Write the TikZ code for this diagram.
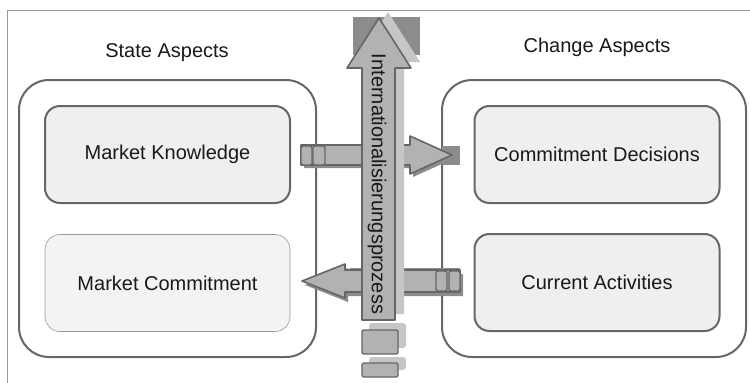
\documentclass[tikz,border=0pt]{standalone}
\usepackage{fontspec}
\setmainfont{Liberation Sans}
\definecolor{boxline}{HTML}{666666}
\definecolor{boxfill}{HTML}{EFEFEF}
\definecolor{boxfillb}{HTML}{F3F3F3}
\definecolor{arrowfill}{HTML}{B2B2B2}
\definecolor{arrowline}{HTML}{666666}
\definecolor{arrowshade}{HTML}{C6C6C6}
\definecolor{arrowdark}{HTML}{8C8C8C}
\tikzset{
  aspect/.style={draw=boxline, line width=2pt, rounded corners=30pt},
  aspectlbl/.style={font=\fontsize{20}{24}\selectfont, text=black!90},
  innerbox/.style={draw=boxline, line width=2pt, fill=boxfill, rounded corners=15pt,
    minimum width=245pt, minimum height=97pt, font=\fontsize{20}{24}\selectfont, text=black!90},
  blockarrow/.style={fill=arrowfill, draw=arrowline, line width=1.6pt, line join=round},
  arrowend/.style={fill=arrowfill, draw=arrowline, line width=1.4pt, rounded corners=2pt}
}
\begin{document}
\begin{tikzpicture}[x=1pt, y=-1pt]
\useasboundingbox (0,0) rectangle (750,383);
\draw[black!40, line width=0.8pt] (7,383) -- (7,10) -- (750,10);

\node[aspectlbl] (statelbl) at (167,53) {State Aspects};
\draw[aspect] (19,80) rectangle (316,357);
\node[innerbox] (know) at (167.5,154.5) {Market Knowledge};
\node[innerbox, draw=black!40, line width=0.6pt, fill=boxfillb] (commit) at (167.5,283) {Market Commitment};
%Group State Aspects

\node[aspectlbl] (changelbl) at (597,47) {Change Aspects};
\draw[aspect] (442,80) rectangle (746,357);
\node[innerbox] (decide) at (597,154.5) {Commitment Decisions};
\node[innerbox] (act) at (597,282.5) {Current Activities};
%Group Change Aspects

\coordinate (kdstart) at (301,155);
\coordinate (kdtip) at (452,155);
\fill[arrowdark] (442,146) rectangle (460,165);
\fill[arrowdark] ([shift={(3,3)}]kdstart) ++(0,-10) -- ++(109,0) -- ++(0,-9) -- ([shift={(3,3)}]kdtip)
  -- ++(-42,19) -- ++(0,-9) -- ++(-109,0) -- cycle;
\draw[blockarrow] (kdstart) ++(0,-10) -- ++(109,0) -- ++(0,-9) -- (kdtip)
  -- ++(-42,19) -- ++(0,-9) -- ++(-109,0) -- cycle;
\draw[arrowend] (301,146) rectangle (312,165);
\draw[arrowend] (313,146) rectangle (325,165);
%Arrow knowledge -> decisions

\coordinate (castart) at (460,281);
\coordinate (catip) at (302,281);
\fill[arrowdark] (350,268) rectangle (460,293);
\fill[arrowdark] ([shift={(3,4)}]catip) -- ++(43,-17) -- ++(0,6) -- ++(115,0) -- ++(0,22) -- ++(-115,0) -- ++(0,6) -- cycle;
\draw[blockarrow] (catip) -- ++(43,-17) -- ++(0,6) -- ++(115,0) -- ++(0,22) -- ++(-115,0) -- ++(0,6) -- cycle;
\draw[arrowend] (436,271) rectangle (447,291);
\draw[arrowend] (449,271) rectangle (460,291);
%Arrow activities -> commitment

\coordinate (ptip) at (379,18);
\coordinate (pfoot) at (379,320);
\fill[arrowdark] (353,17) rectangle (420,55);
\fill[arrowshade] ([shift={(9,-6)}]ptip) -- ++(32,50) -- ++(-16,0) -- ++(0,252) -- ++(-33,0) -- ++(0,-252) -- ++(-15,0) -- cycle;
\draw[blockarrow] (ptip) -- ++(32,50) -- ++(-16,0) -- (pfoot -| 395,0) -- (pfoot -| 362,0) -- ++(0,-252) -- ++(-15,0) -- cycle;
\node[rotate=-90, font=\fontsize{20}{24}\selectfont, text=black!90] (plbl) at (377,184) {Internationalisierungsprozess};
\fill[arrowshade, rounded corners=3pt] (369,323) rectangle (406,348);
\fill[arrowshade, rounded corners=3pt] (369,357) rectangle (406,370);
\draw[arrowend] (362,330) rectangle (398,354);
\draw[arrowend] (362,363) rectangle (398,377);
%Arrow Internationalisierungsprozess
\end{tikzpicture}
\end{document}
